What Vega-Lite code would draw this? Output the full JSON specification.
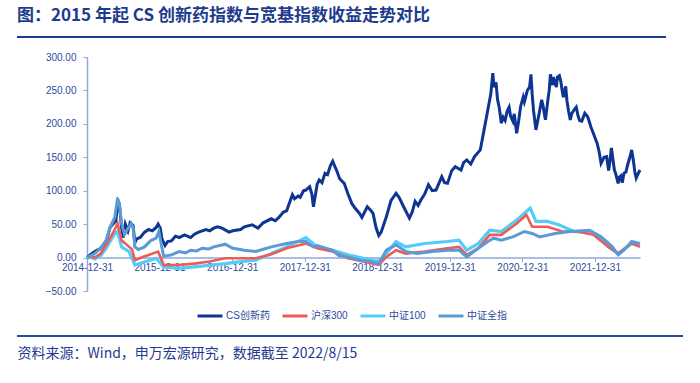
{
  "$schema": "https://vega.github.io/schema/vega-lite/v6.json",
  "width": 553,
  "height": 234,
  "autosize": {"type": "none"},
  "padding": {"left": 87, "top": 57, "right": 60, "bottom": 92},
  "background": "white",
  "title": {
    "text": "图：2015 年起 CS 创新药指数与宽基指数收益走势对比",
    "anchor": "start", "frame": "group", "dx": -70, "offset": 11,
    "font": "Noto Sans CJK SC", "fontSize": 17, "fontWeight": "bold", "color": "#1D3C8E"
  },
  "config": {
    "font": "Liberation Sans, Noto Sans CJK SC",
    "view": {"stroke": null},
    "legend": {
      "orient": "none", "legendX": 109, "legendY": 245, "direction": "horizontal",
      "symbolType": "stroke", "symbolSize": 625, "symbolStrokeWidth": 3,
      "labelOffset": 2, "columnPadding": 6, "labelFontSize": 10,
      "labelColor": "#2E4C9C", "labelFont": "Liberation Sans, Noto Sans CJK SC", "padding": 0
    }
  },
  "data": {
    "format": {"parse": {"d": "date:'%Y-%m-%d'"}},
    "values": [
      {"s":"CS创新药","d":"2014-12-31","v":0},{"s":"CS创新药","d":"2015-01-20","v":5},{"s":"CS创新药","d":"2015-02-08","v":9},{"s":"CS创新药","d":"2015-03-10","v":14},{"s":"CS创新药","d":"2015-04-07","v":24},{"s":"CS创新药","d":"2015-04-26","v":45},{"s":"CS创新药","d":"2015-05-10","v":50},{"s":"CS创新药","d":"2015-05-25","v":55},{"s":"CS创新药","d":"2015-06-05","v":84},{"s":"CS创新药","d":"2015-06-12","v":80},{"s":"CS创新药","d":"2015-06-23","v":45},{"s":"CS创新药","d":"2015-07-02","v":30},{"s":"CS创新药","d":"2015-07-12","v":50},{"s":"CS创新药","d":"2015-07-25","v":40},{"s":"CS创新药","d":"2015-08-05","v":52},{"s":"CS创新药","d":"2015-08-20","v":48},{"s":"CS创新药","d":"2015-08-29","v":22},{"s":"CS创新药","d":"2015-09-07","v":28},{"s":"CS创新药","d":"2015-09-25","v":30},{"s":"CS创新药","d":"2015-10-17","v":38},{"s":"CS创新药","d":"2015-11-06","v":42},{"s":"CS创新药","d":"2015-11-25","v":40},{"s":"CS创新药","d":"2015-12-14","v":45},{"s":"CS创新药","d":"2015-12-24","v":50},{"s":"CS创新药","d":"2016-01-04","v":44},{"s":"CS创新药","d":"2016-01-12","v":28},{"s":"CS创新药","d":"2016-01-28","v":18},{"s":"CS创新药","d":"2016-02-10","v":24},{"s":"CS创新药","d":"2016-02-29","v":25},{"s":"CS创新药","d":"2016-03-20","v":32},{"s":"CS创新药","d":"2016-04-08","v":30},{"s":"CS创新药","d":"2016-05-05","v":34},{"s":"CS创新药","d":"2016-06-05","v":30},{"s":"CS创新药","d":"2016-06-24","v":35},{"s":"CS创新药","d":"2016-07-15","v":38},{"s":"CS创新药","d":"2016-08-02","v":40},{"s":"CS创新药","d":"2016-08-21","v":42},{"s":"CS创新药","d":"2016-09-09","v":40},{"s":"CS创新药","d":"2016-09-29","v":44},{"s":"CS创新药","d":"2016-10-18","v":46},{"s":"CS创新药","d":"2016-11-10","v":44},{"s":"CS创新药","d":"2016-12-15","v":38},{"s":"CS创新药","d":"2017-01-03","v":40},{"s":"CS创新药","d":"2017-02-11","v":42},{"s":"CS创新药","d":"2017-03-02","v":46},{"s":"CS创新药","d":"2017-04-10","v":49},{"s":"CS创新药","d":"2017-05-10","v":44},{"s":"CS创新药","d":"2017-06-05","v":52},{"s":"CS创新药","d":"2017-07-16","v":58},{"s":"CS创新药","d":"2017-08-05","v":55},{"s":"CS创新药","d":"2017-08-23","v":60},{"s":"CS创新药","d":"2017-09-15","v":68},{"s":"CS创新药","d":"2017-10-01","v":70},{"s":"CS创新药","d":"2017-10-30","v":94},{"s":"CS创新药","d":"2017-11-10","v":88},{"s":"CS创新药","d":"2017-11-28","v":92},{"s":"CS创新药","d":"2017-12-08","v":90},{"s":"CS创新药","d":"2017-12-25","v":100},{"s":"CS创新药","d":"2018-01-06","v":101},{"s":"CS创新药","d":"2018-01-25","v":106},{"s":"CS创新药","d":"2018-02-05","v":95},{"s":"CS创新药","d":"2018-02-13","v":76},{"s":"CS创新药","d":"2018-03-04","v":110},{"s":"CS创新药","d":"2018-03-14","v":116},{"s":"CS创新药","d":"2018-03-28","v":112},{"s":"CS创新药","d":"2018-04-12","v":126},{"s":"CS创新药","d":"2018-04-25","v":124},{"s":"CS创新药","d":"2018-05-10","v":138},{"s":"CS创新药","d":"2018-05-21","v":144},{"s":"CS创新药","d":"2018-06-01","v":136},{"s":"CS创新药","d":"2018-06-09","v":131},{"s":"CS创新药","d":"2018-06-25","v":118},{"s":"CS创新药","d":"2018-07-18","v":111},{"s":"CS创新药","d":"2018-08-06","v":95},{"s":"CS创新药","d":"2018-08-25","v":81},{"s":"CS创新药","d":"2018-09-10","v":74},{"s":"CS创新药","d":"2018-10-03","v":66},{"s":"CS创新药","d":"2018-10-15","v":60},{"s":"CS创新药","d":"2018-11-11","v":76},{"s":"CS创新药","d":"2018-11-30","v":70},{"s":"CS创新药","d":"2018-12-10","v":66},{"s":"CS创新药","d":"2018-12-25","v":45},{"s":"CS创新药","d":"2019-01-08","v":33},{"s":"CS创新药","d":"2019-01-20","v":38},{"s":"CS创新药","d":"2019-02-15","v":61},{"s":"CS创新药","d":"2019-03-10","v":85},{"s":"CS创新药","d":"2019-04-05","v":96},{"s":"CS创新药","d":"2019-04-20","v":90},{"s":"CS创新药","d":"2019-05-13","v":76},{"s":"CS创新药","d":"2019-06-11","v":59},{"s":"CS创新药","d":"2019-06-25","v":68},{"s":"CS创新药","d":"2019-07-10","v":84},{"s":"CS创新药","d":"2019-07-25","v":78},{"s":"CS创新药","d":"2019-08-08","v":86},{"s":"CS创新药","d":"2019-08-27","v":95},{"s":"CS创新药","d":"2019-09-15","v":109},{"s":"CS创新药","d":"2019-10-04","v":100},{"s":"CS创新药","d":"2019-10-23","v":101},{"s":"CS创新药","d":"2019-11-21","v":121},{"s":"CS创新药","d":"2019-12-05","v":112},{"s":"CS创新药","d":"2019-12-20","v":111},{"s":"CS创新药","d":"2020-01-10","v":130},{"s":"CS创新药","d":"2020-01-28","v":136},{"s":"CS创新药","d":"2020-02-26","v":131},{"s":"CS创新药","d":"2020-03-10","v":142},{"s":"CS创新药","d":"2020-03-26","v":146},{"s":"CS创新药","d":"2020-04-15","v":140},{"s":"CS创新药","d":"2020-05-04","v":151},{"s":"CS创新药","d":"2020-06-02","v":161},{"s":"CS创新药","d":"2020-06-21","v":191},{"s":"CS创新药","d":"2020-07-10","v":221},{"s":"CS创新药","d":"2020-07-25","v":245},{"s":"CS创新药","d":"2020-08-04","v":276},{"s":"CS创新药","d":"2020-08-10","v":255},{"s":"CS创新药","d":"2020-08-20","v":262},{"s":"CS创新药","d":"2020-08-28","v":236},{"s":"CS创新药","d":"2020-09-05","v":225},{"s":"CS创新药","d":"2020-09-16","v":201},{"s":"CS创新药","d":"2020-09-25","v":210},{"s":"CS创新药","d":"2020-10-05","v":205},{"s":"CS创新药","d":"2020-10-15","v":219},{"s":"CS创新药","d":"2020-10-25","v":225},{"s":"CS创新药","d":"2020-11-01","v":212},{"s":"CS创新药","d":"2020-11-13","v":204},{"s":"CS创新药","d":"2020-11-20","v":215},{"s":"CS创新药","d":"2020-12-02","v":186},{"s":"CS创新药","d":"2020-12-10","v":200},{"s":"CS创新药","d":"2020-12-22","v":226},{"s":"CS创新药","d":"2021-01-04","v":240},{"s":"CS创新药","d":"2021-01-10","v":233},{"s":"CS创新药","d":"2021-01-25","v":250},{"s":"CS创新药","d":"2021-02-05","v":255},{"s":"CS创新药","d":"2021-02-12","v":274},{"s":"CS创新药","d":"2021-02-18","v":245},{"s":"CS创新药","d":"2021-02-25","v":220},{"s":"CS创新药","d":"2021-03-09","v":191},{"s":"CS创新药","d":"2021-03-15","v":200},{"s":"CS创新药","d":"2021-03-25","v":215},{"s":"CS创新药","d":"2021-04-07","v":236},{"s":"CS创新药","d":"2021-04-15","v":225},{"s":"CS创新药","d":"2021-04-26","v":206},{"s":"CS创新药","d":"2021-05-10","v":240},{"s":"CS创新药","d":"2021-05-15","v":250},{"s":"CS创新药","d":"2021-05-21","v":274},{"s":"CS创新药","d":"2021-06-01","v":258},{"s":"CS创新药","d":"2021-06-05","v":270},{"s":"CS创新药","d":"2021-06-13","v":261},{"s":"CS创新药","d":"2021-06-20","v":255},{"s":"CS创新药","d":"2021-06-25","v":270},{"s":"CS创新药","d":"2021-07-05","v":272},{"s":"CS创新药","d":"2021-07-12","v":264},{"s":"CS创新药","d":"2021-07-20","v":248},{"s":"CS创新药","d":"2021-07-25","v":240},{"s":"CS创新药","d":"2021-08-06","v":256},{"s":"CS创新药","d":"2021-08-12","v":235},{"s":"CS创新药","d":"2021-08-20","v":220},{"s":"CS创新药","d":"2021-08-29","v":206},{"s":"CS创新药","d":"2021-09-05","v":215},{"s":"CS创新药","d":"2021-09-17","v":221},{"s":"CS创新药","d":"2021-09-28","v":225},{"s":"CS创新药","d":"2021-10-07","v":212},{"s":"CS创新药","d":"2021-10-15","v":205},{"s":"CS创新药","d":"2021-10-26","v":204},{"s":"CS创新药","d":"2021-11-10","v":216},{"s":"CS创新药","d":"2021-11-24","v":211},{"s":"CS创新药","d":"2021-12-01","v":205},{"s":"CS创新药","d":"2021-12-10","v":196},{"s":"CS创新药","d":"2021-12-23","v":186},{"s":"CS创新药","d":"2022-01-11","v":171},{"s":"CS创新药","d":"2022-01-20","v":160},{"s":"CS创新药","d":"2022-01-31","v":141},{"s":"CS创新药","d":"2022-02-07","v":145},{"s":"CS创新药","d":"2022-02-15","v":150},{"s":"CS创新药","d":"2022-02-28","v":151},{"s":"CS创新药","d":"2022-03-10","v":130},{"s":"CS创新药","d":"2022-03-17","v":145},{"s":"CS创新药","d":"2022-03-24","v":164},{"s":"CS创新药","d":"2022-04-08","v":131},{"s":"CS创新药","d":"2022-04-15","v":125},{"s":"CS创新药","d":"2022-04-27","v":111},{"s":"CS创新药","d":"2022-05-03","v":120},{"s":"CS创新药","d":"2022-05-10","v":122},{"s":"CS创新药","d":"2022-05-18","v":112},{"s":"CS创新药","d":"2022-05-26","v":126},{"s":"CS创新药","d":"2022-06-05","v":128},{"s":"CS创新药","d":"2022-06-15","v":140},{"s":"CS创新药","d":"2022-06-25","v":150},{"s":"CS创新药","d":"2022-07-04","v":161},{"s":"CS创新药","d":"2022-07-10","v":150},{"s":"CS创新药","d":"2022-07-15","v":140},{"s":"CS创新药","d":"2022-07-20","v":128},{"s":"CS创新药","d":"2022-07-27","v":119},{"s":"CS创新药","d":"2022-08-05","v":125},{"s":"CS创新药","d":"2022-08-15","v":131},

      {"s":"中证全指","d":"2014-12-31","v":0},{"s":"中证全指","d":"2015-01-20","v":3},{"s":"中证全指","d":"2015-02-08","v":6},{"s":"中证全指","d":"2015-03-10","v":14},{"s":"中证全指","d":"2015-04-07","v":26},{"s":"中证全指","d":"2015-04-26","v":45},{"s":"中证全指","d":"2015-05-05","v":51},{"s":"中证全指","d":"2015-05-20","v":60},{"s":"中证全指","d":"2015-06-03","v":89},{"s":"中证全指","d":"2015-06-12","v":80},{"s":"中证全指","d":"2015-06-23","v":51},{"s":"中证全指","d":"2015-07-08","v":35},{"s":"中证全指","d":"2015-07-20","v":41},{"s":"中证全指","d":"2015-08-10","v":51},{"s":"中证全指","d":"2015-08-20","v":45},{"s":"中证全指","d":"2015-08-29","v":16},{"s":"中证全指","d":"2015-09-15","v":12},{"s":"中证全指","d":"2015-10-17","v":16},{"s":"中证全指","d":"2015-11-15","v":25},{"s":"中证全指","d":"2015-12-14","v":29},{"s":"中证全指","d":"2015-12-28","v":39},{"s":"中证全指","d":"2016-01-12","v":15},{"s":"中证全指","d":"2016-01-21","v":2},{"s":"中证全指","d":"2016-02-29","v":4},{"s":"中证全指","d":"2016-04-08","v":9},{"s":"中证全指","d":"2016-05-10","v":7},{"s":"中证全指","d":"2016-06-05","v":11},{"s":"中证全指","d":"2016-07-05","v":10},{"s":"中证全指","d":"2016-08-02","v":14},{"s":"中证全指","d":"2016-09-05","v":13},{"s":"中证全指","d":"2016-09-29","v":16},{"s":"中证全指","d":"2016-11-26","v":20},{"s":"中证全指","d":"2017-01-03","v":14},{"s":"中证全指","d":"2017-03-02","v":11},{"s":"中证全指","d":"2017-04-29","v":9},{"s":"中证全指","d":"2017-06-01","v":12},{"s":"中证全指","d":"2017-07-16","v":16},{"s":"中证全指","d":"2017-10-01","v":21},{"s":"中证全指","d":"2017-11-28","v":24},{"s":"中证全指","d":"2018-01-06","v":24},{"s":"中证全指","d":"2018-02-13","v":16},{"s":"中证全指","d":"2018-03-04","v":18},{"s":"中证全指","d":"2018-05-21","v":11},{"s":"中证全指","d":"2018-06-20","v":3},{"s":"中证全指","d":"2018-08-06","v":1},{"s":"中证全指","d":"2018-10-03","v":-4},{"s":"中证全指","d":"2018-11-30","v":-6},{"s":"中证全指","d":"2019-01-08","v":-9},{"s":"中证全指","d":"2019-02-15","v":11},{"s":"中证全指","d":"2019-04-05","v":19},{"s":"中证全指","d":"2019-05-23","v":9},{"s":"中证全指","d":"2019-07-20","v":6},{"s":"中证全指","d":"2019-10-04","v":9},{"s":"中证全指","d":"2019-12-20","v":11},{"s":"中证全指","d":"2020-02-16","v":11},{"s":"中证全指","d":"2020-03-26","v":1},{"s":"中证全指","d":"2020-05-23","v":14},{"s":"中证全指","d":"2020-07-10","v":24},{"s":"中证全指","d":"2020-08-08","v":29},{"s":"中证全指","d":"2020-09-16","v":26},{"s":"中证全指","d":"2020-11-13","v":31},{"s":"中证全指","d":"2021-01-10","v":39},{"s":"中证全指","d":"2021-02-18","v":36},{"s":"中证全指","d":"2021-03-28","v":31},{"s":"中证全指","d":"2021-06-13","v":36},{"s":"中证全指","d":"2021-08-29","v":39},{"s":"中证全指","d":"2021-12-04","v":41},{"s":"中证全指","d":"2022-01-31","v":31},{"s":"中证全指","d":"2022-03-29","v":16},{"s":"中证全指","d":"2022-04-27","v":4},{"s":"中证全指","d":"2022-05-26","v":11},{"s":"中证全指","d":"2022-07-04","v":24},{"s":"中证全指","d":"2022-08-15","v":21},

      {"s":"沪深300","d":"2014-12-31","v":0},{"s":"沪深300","d":"2015-01-20","v":2},{"s":"沪深300","d":"2015-02-08","v":0},{"s":"沪深300","d":"2015-03-10","v":6},{"s":"沪深300","d":"2015-04-07","v":19},{"s":"沪深300","d":"2015-05-15","v":39},{"s":"沪深300","d":"2015-06-03","v":51},{"s":"沪深300","d":"2015-06-23","v":26},{"s":"沪深300","d":"2015-07-31","v":16},{"s":"沪深300","d":"2015-08-15","v":12},{"s":"沪深300","d":"2015-08-29","v":-4},{"s":"沪深300","d":"2015-10-17","v":2},{"s":"沪深300","d":"2015-11-06","v":4},{"s":"沪深300","d":"2015-12-24","v":9},{"s":"沪深300","d":"2016-01-21","v":-11},{"s":"沪深300","d":"2016-04-08","v":-11},{"s":"沪深300","d":"2016-06-24","v":-9},{"s":"沪深300","d":"2016-09-09","v":-6},{"s":"沪深300","d":"2016-11-26","v":-1},{"s":"沪深300","d":"2017-02-11","v":-1},{"s":"沪深300","d":"2017-04-29","v":-1},{"s":"沪深300","d":"2017-07-16","v":5},{"s":"沪深300","d":"2017-10-01","v":14},{"s":"沪深300","d":"2018-01-06","v":21},{"s":"沪深300","d":"2018-03-04","v":14},{"s":"沪深300","d":"2018-05-21","v":9},{"s":"沪深300","d":"2018-08-06","v":-1},{"s":"沪深300","d":"2018-10-22","v":-6},{"s":"沪深300","d":"2019-01-08","v":-11},{"s":"沪深300","d":"2019-02-15","v":1},{"s":"沪深300","d":"2019-04-05","v":11},{"s":"沪深300","d":"2019-05-23","v":6},{"s":"沪深300","d":"2019-08-27","v":9},{"s":"沪深300","d":"2019-12-20","v":14},{"s":"沪深300","d":"2020-02-16","v":16},{"s":"沪深300","d":"2020-03-26","v":4},{"s":"沪深300","d":"2020-05-23","v":14},{"s":"沪深300","d":"2020-07-20","v":34},{"s":"沪深300","d":"2020-09-16","v":34},{"s":"沪深300","d":"2020-12-02","v":51},{"s":"沪深300","d":"2021-01-20","v":64},{"s":"沪深300","d":"2021-02-18","v":46},{"s":"沪深300","d":"2021-05-06","v":46},{"s":"沪深300","d":"2021-07-21","v":39},{"s":"沪深300","d":"2021-10-07","v":39},{"s":"沪深300","d":"2021-12-23","v":34},{"s":"沪深300","d":"2022-03-10","v":16},{"s":"沪深300","d":"2022-04-27","v":6},{"s":"沪深300","d":"2022-07-04","v":21},{"s":"沪深300","d":"2022-08-15","v":16},

      {"s":"中证100","d":"2014-12-31","v":0},{"s":"中证100","d":"2015-01-20","v":0},{"s":"中证100","d":"2015-02-08","v":-2},{"s":"中证100","d":"2015-03-10","v":3},{"s":"中证100","d":"2015-04-07","v":14},{"s":"中证100","d":"2015-05-15","v":34},{"s":"中证100","d":"2015-06-03","v":39},{"s":"中证100","d":"2015-06-23","v":16},{"s":"中证100","d":"2015-07-31","v":9},{"s":"中证100","d":"2015-08-29","v":-11},{"s":"中证100","d":"2015-12-14","v":-1},{"s":"中证100","d":"2016-01-21","v":-14},{"s":"中证100","d":"2016-04-08","v":-16},{"s":"中证100","d":"2016-06-24","v":-14},{"s":"中证100","d":"2016-11-26","v":-9},{"s":"中证100","d":"2017-02-11","v":-6},{"s":"中证100","d":"2017-04-29","v":-4},{"s":"中证100","d":"2017-07-16","v":6},{"s":"中证100","d":"2017-10-01","v":16},{"s":"中证100","d":"2018-01-06","v":30},{"s":"中证100","d":"2018-03-04","v":16},{"s":"中证100","d":"2018-05-21","v":11},{"s":"中证100","d":"2018-08-06","v":4},{"s":"中证100","d":"2018-10-22","v":-1},{"s":"中证100","d":"2019-01-08","v":-6},{"s":"中证100","d":"2019-02-15","v":6},{"s":"中证100","d":"2019-04-05","v":24},{"s":"中证100","d":"2019-05-23","v":16},{"s":"中证100","d":"2019-08-27","v":21},{"s":"中证100","d":"2019-12-20","v":24},{"s":"中证100","d":"2020-02-16","v":26},{"s":"中证100","d":"2020-03-26","v":11},{"s":"中证100","d":"2020-05-23","v":21},{"s":"中证100","d":"2020-07-20","v":41},{"s":"中证100","d":"2020-09-16","v":39},{"s":"中证100","d":"2020-12-02","v":56},{"s":"中证100","d":"2021-02-08","v":74},{"s":"中证100","d":"2021-03-09","v":54},{"s":"中证100","d":"2021-05-06","v":54},{"s":"中证100","d":"2021-07-02","v":49},{"s":"中证100","d":"2021-09-17","v":39},{"s":"中证100","d":"2021-12-23","v":36},{"s":"中证100","d":"2022-03-10","v":16},{"s":"中证100","d":"2022-04-27","v":6},{"s":"中证100","d":"2022-07-04","v":21},{"s":"中证100","d":"2022-08-15","v":19}
    ]
  },
  "encoding": {
    "x": {
      "field": "d", "type": "temporal",
      "scale": {"domain": [{"year": 2014, "month": 12, "date": 31}, {"year": 2022, "month": 8, "date": 15}]},
      "axis": {
        "values": [{"year": 2014, "month": 12, "date": 31}, {"year": 2015, "month": 12, "date": 31}, {"year": 2016, "month": 12, "date": 31}, {"year": 2017, "month": 12, "date": 31}, {"year": 2018, "month": 12, "date": 31}, {"year": 2019, "month": 12, "date": 31}, {"year": 2020, "month": 12, "date": 31}, {"year": 2021, "month": 12, "date": 31}],
        "format": "%Y-%m-%d", "offset": -33.4, "grid": false,
        "domainColor": "#8EA9DB", "domainWidth": 1.5, "tickColor": "#8EA9DB", "tickSize": 4,
        "labelPadding": 1, "labelFontSize": 10, "labelColor": "#2E4C9C", "labelFlush": false, "labelOverlap": false,
        "title": "资料来源：Wind，申万宏源研究，数据截至 2022/8/15",
        "titleX": -70, "titleY": 95.5, "titleAlign": "left", "titleAnchor": "start", "titleBaseline": "middle",
        "titleFont": "Noto Sans CJK SC", "titleFontSize": 14, "titleFontWeight": "normal", "titleColor": "#1F3A8F"
      }
    },
    "y": {
      "field": "v", "type": "quantitative",
      "scale": {"domain": [-50, 300], "nice": false, "zero": false},
      "axis": {
        "values": [-50, 0, 50, 100, 150, 200, 250, 300], "format": ".2f", "grid": false, "title": null,
        "domainColor": "#8EA9DB", "domainWidth": 1.5, "tickColor": "#8EA9DB", "tickSize": 4,
        "labelPadding": 7, "labelFontSize": 10, "labelColor": "#2E4C9C"
      }
    },
    "color": {
      "field": "s", "type": "nominal",
      "scale": {"domain": ["CS创新药", "沪深300", "中证100", "中证全指"], "range": ["#0D3591", "#EE5B55", "#55CCF8", "#5B9BD5"]},
      "legend": {"title": null}
    }
  },
  "layer": [
    {"transform": [{"filter": "datum.s === 'CS创新药'"}], "mark": {"type": "line", "strokeWidth": 3}},
    {"transform": [{"filter": "datum.s === '中证100'"}], "mark": {"type": "line", "strokeWidth": 3.2}},
    {"transform": [{"filter": "datum.s === '沪深300'"}], "mark": {"type": "line", "strokeWidth": 2.6}},
    {"transform": [{"filter": "datum.s === '中证全指'"}], "mark": {"type": "line", "strokeWidth": 3}},
    {
      "mark": {"type": "rule", "color": "#1D3C8E", "strokeWidth": 1.5},
      "encoding": {
        "x": {"datum": {"year": 2014, "month": 1, "date": 13}, "type": "temporal"},
        "x2": {"datum": {"year": 2022, "month": 12, "date": 24}},
        "y": {"datum": 330, "type": "quantitative"},
        "color": null
      }
    },
    {
      "mark": {"type": "rule", "color": "#2A4B9B", "strokeWidth": 1.5},
      "encoding": {
        "x": {"datum": {"year": 2014, "month": 1, "date": 13}, "type": "temporal"},
        "x2": {"datum": {"year": 2023, "month": 3, "date": 19}},
        "y": {"datum": -117.3, "type": "quantitative"},
        "color": null
      }
    }
  ]
}
